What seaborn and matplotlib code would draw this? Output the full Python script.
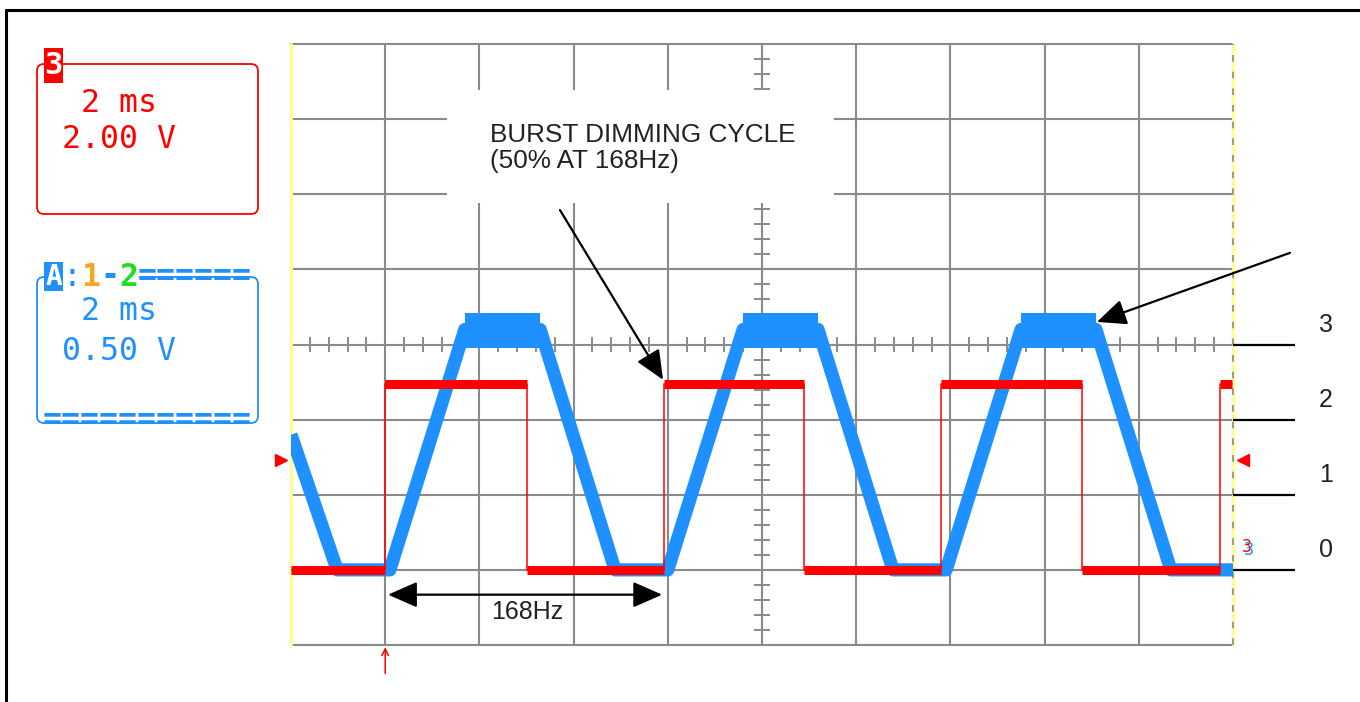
import matplotlib
matplotlib.use("Agg")
import matplotlib.pyplot as plt
from matplotlib.patches import Rectangle, FancyBboxPatch
import numpy as np
import seaborn as sns

# time in ms (2 ms/div), level in screen divisions above the ground line
blue_t = [0.0, 0.98, 2.10, 3.69, 5.29, 6.88, 8.00, 9.60, 11.19, 12.78, 13.91, 15.50, 17.09, 18.68, 20.0]
blue_v = [1.8, 0.0, 0.0, 3.2, 3.2, 0.0, 0.0, 3.2, 3.2, 0.0, 0.0, 3.2, 3.2, 0.0, 0.0]
plateau_start = [3.69, 9.60, 15.50]
plateau_end = [5.29, 11.19, 17.09]
plateau_lo = 2.95
plateau_hi = 3.42

red_edges = [0.0, 2.0, 5.01, 7.92, 10.9, 13.8, 16.8, 19.72, 19.98]
red_levels = [0.0, 2.48, 0.0, 2.48, 0.0, 2.48, 0.0, 2.48]

level_values = [0, 1, 2, 3]
level_labels = ["0", "1", "2", "3"]

RED = "#ff0000"
BLUE = "#1e90ff"
GRID = "#8a8a8a"
MONO = "DejaVu Sans Mono"

sns.set_style("white")
plt.rcParams['font.family'] = ['Liberation Sans', 'DejaVu Sans']

fig = plt.figure(figsize=(13.6, 7.02), dpi=100)

# ---- overlay in pixel coords (frame + readout boxes)
ov = fig.add_axes([0, 0, 1, 1])
ov.set_xlim(0, 1360)
ov.set_ylim(702, 0)
ov.axis("off")
ov.plot([5.5, 1360], [10, 10], color="black", lw=2.2)
ov.plot([5.5, 5.5], [10, 702], color="black", lw=2.2)

cw = 19  # char width of the scope font
def mono(x_char, y, s, color, size=22.7, weight="normal"):
    ov.text(43 + x_char * cw, y, s, family=MONO, fontsize=size, color=color,
            ha="left", va="center", weight=weight, zorder=3)

# channel 3 box
ov.add_patch(FancyBboxPatch((37, 64), 221, 150, boxstyle="round,pad=0,rounding_size=7",
                            fc="none", ec=RED, lw=1.3))
ov.add_patch(Rectangle((44, 48), 19, 35, fc=RED, ec="none"))
ov.text(53.5, 66, "3", family=MONO, fontsize=22, color="white", ha="center", va="center", weight="bold")
mono(0, 103, "  2 ms", RED)
mono(0, 139, " 2.00 V", RED)

# math channel box
ov.add_patch(FancyBboxPatch((37, 277), 221, 146, boxstyle="round,pad=0,rounding_size=7",
                            fc="none", ec=BLUE, lw=1.3, zorder=1))
ov.add_patch(Rectangle((63, 268), 76, 18, fc="white", ec="none", zorder=2))
ov.add_patch(Rectangle((44, 262), 19, 29, fc=BLUE, ec="none", zorder=2))
ov.text(53.5, 277, "A", family=MONO, fontsize=20, color="white", ha="center", va="center",
        weight="bold", zorder=3)
mono(1, 277, ":", BLUE)
mono(2, 277, "1", "#f5a623", weight="bold")
mono(3, 277, "-", BLUE, weight="bold")
mono(4, 277, "2", "#22dd22", weight="bold")
mono(5, 277, "======", BLUE, weight="bold")
mono(0, 312, "  2 ms", BLUE)
mono(0, 351, " 0.50 V", BLUE)
mono(0, 421, "===========", BLUE, weight="bold")

# ---- scope screen
ax = fig.add_axes([291 / 1360, 57 / 702, 942 / 1360, 601 / 702])
ax.set_xlim(0, 20)
ax.set_ylim(-1, 7)
ax.axis("off")

for xv in np.arange(0, 21, 2):
    ax.axvline(xv, color=GRID, lw=1.5, zorder=1, clip_on=False)
for yv in range(-1, 8):
    ax.axhline(yv, color=GRID, lw=1.5, zorder=1, clip_on=False)
ax.axvline(0, color="#ffff90", lw=2.2, zorder=1.2, clip_on=False)
ax.axvline(20, color="#ffff90", lw=2.2, zorder=1.2, clip_on=False)
ax.axvline(20, color=GRID, lw=1.2, ls=(0, (4, 6)), zorder=1.25, clip_on=False)

# minor ticks on the centre cross
minor_x = [v for v in np.arange(0.4, 20, 0.4) if abs(v / 2 - round(v / 2)) > 1e-6]
ax.vlines(minor_x, 2.9, 3.1, color=GRID, lw=1.4, zorder=1.3)
minor_y = [v for v in np.arange(-0.8, 7, 0.2) if abs(v - round(v)) > 1e-6]
ax.hlines(minor_y, 9.83, 10.17, color=GRID, lw=1.4, zorder=1.3)

# white label area over the grid
ax.add_patch(Rectangle((3.31, 4.89), 8.22, 1.50, fc="white", ec="none", zorder=1.5))

# traces
for s, e in zip(plateau_start, plateau_end):
    ax.fill_between([s, e], plateau_lo, plateau_hi, color=BLUE, lw=0, zorder=2.5)
sns.lineplot(x=blue_t, y=blue_v, ax=ax, color=BLUE, lw=9.5, estimator=None, sort=False,
             zorder=2.6, solid_joinstyle="round", solid_capstyle="butt")
ax.step(red_edges, red_levels + [red_levels[-1]], where="post", color=RED, lw=1.1, zorder=3)
ax.hlines(red_levels, red_edges[:-1], red_edges[1:], color=RED, lw=6.5, zorder=3.1)

# level lines and labels on the right
ax.hlines(level_values, 20, 21.32, color="black", lw=1.6, clip_on=False, zorder=3)
for v, lab in zip(level_values, level_labels):
    ax.text(21.97, v + 0.26, lab, fontsize=18, color="#222222", ha="center", va="center")

# markers
ax.plot([-0.21], [1.46], marker=">", color=RED, ms=9, clip_on=False, zorder=4)
ax.plot([20.21], [1.46], marker="<", color=RED, ms=9, clip_on=False, zorder=4)
ax.annotate("", xy=(2.0, -1.03), xytext=(2.0, -1.38), annotation_clip=False,
            arrowprops=dict(arrowstyle="->", color=RED, lw=1.1, mutation_scale=12, shrinkA=0, shrinkB=0))
ax.text(20.3, 0.3, "3", family=MONO, fontsize=12, color=RED, ha="center", va="center", zorder=4)
ax.text(20.34, 0.27, "3", family=MONO, fontsize=12, color=BLUE, ha="center", va="center", zorder=4)

# annotations
ax.text(4.22, 5.62, "BURST DIMMING CYCLE\n(50% AT 168Hz)", fontsize=18.8, color="#222222",
        ha="left", va="center", linespacing=1.1, zorder=5)
head = dict(color="black", lw=1.6, shrinkA=0, shrinkB=0, mutation_scale=36)
ax.annotate("", xy=(7.90, 2.53), xytext=(5.71, 4.79), annotation_clip=False,
            arrowprops=dict(arrowstyle="-|>,head_length=0.5,head_width=0.22", **head), zorder=5)
ax.annotate("", xy=(17.11, 3.30), xytext=(21.21, 4.22), annotation_clip=False,
            arrowprops=dict(arrowstyle="-|>,head_length=0.5,head_width=0.22", **head), zorder=5)
ax.annotate("", xy=(2.06, -0.33), xytext=(7.88, -0.33), annotation_clip=False,
            arrowprops=dict(arrowstyle="<|-|>,head_length=0.5,head_width=0.22", **head), zorder=5)
ax.text(5.01, -0.56, "168Hz", fontsize=18, color="#222222", ha="center", va="center", zorder=5)

fig.savefig("out.png", dpi=100)
